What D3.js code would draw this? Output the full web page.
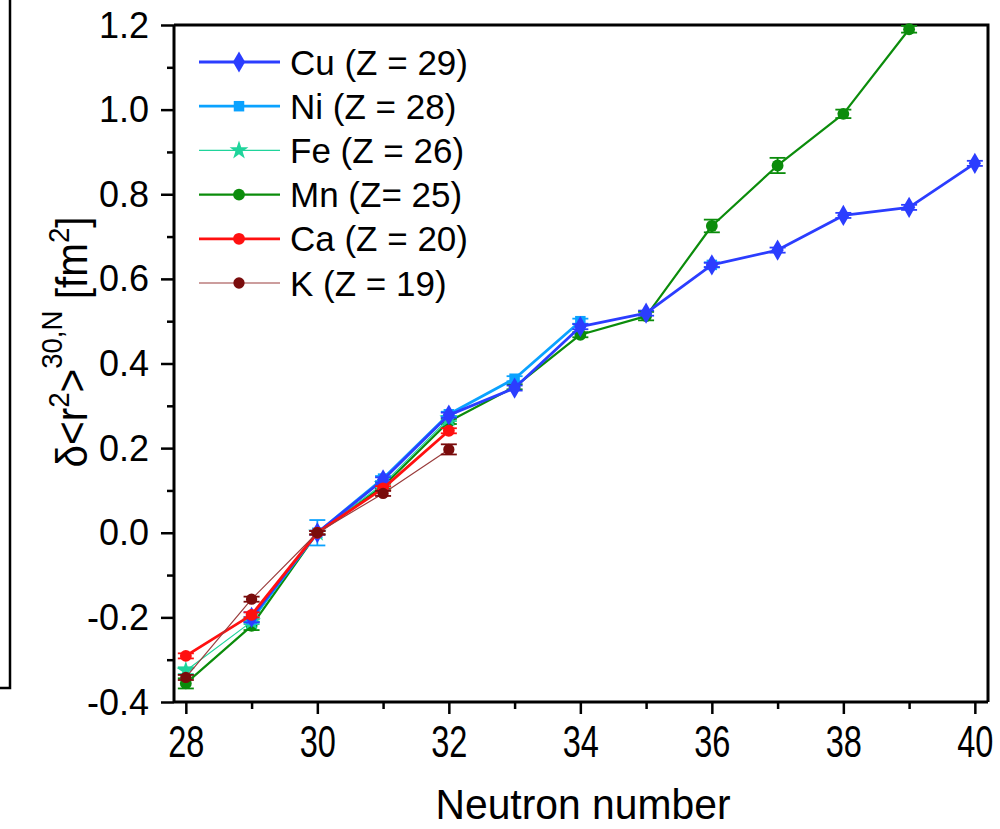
<!DOCTYPE html>
<html>
<head>
<meta charset="utf-8">
<script src="https://cdn.jsdelivr.net/npm/d3@7"></script>
<style>
  html, body { margin: 0; padding: 0; background: #fff; }
  svg { display: block; }
  .sans { font-family: "Liberation Sans", Arial, sans-serif; }
</style>
</head>
<body>
<svg id="chart" width="1000" height="829"></svg>
<script>
// Neutron numbers and tick values
const neutrons = [28, 29, 30, 31, 32, 33, 34, 35, 36, 37, 38, 39, 40];
const xTicks = [28, 30, 32, 34, 36, 38, 40];
const yTicks = [-0.4, -0.2, 0.0, 0.2, 0.4, 0.6, 0.8, 1.0, 1.2];

// Changes in mean-square charge radius relative to N = 30 [fm^2]
const cuN   = [29, 30, 31, 32, 33, 34, 35, 36, 37, 38, 39, 40];
const cuVal = [-0.200, 0.000, 0.125, 0.278, 0.342, 0.487, 0.519, 0.633, 0.668, 0.750, 0.769, 0.873];
const cuErr = [0.012, 0.005, 0.006, 0.006, 0.006, 0.006, 0.006, 0.005, 0.006, 0.006, 0.006, 0.006];

const niN   = [29, 30, 31, 32, 33, 34, 35, 36];
const niVal = [-0.205, 0.000, 0.128, 0.280, 0.364, 0.500, null, 0.633];
const niErr = [0.006, 0.030, 0.006, 0.006, 0.006, 0.006, null, 0.006];

const feN   = [28, 29, 30, 31, 32];
const feVal = [-0.326, -0.210, 0.000, 0.115, 0.270];
const feErr = [0.008, 0.006, 0.004, 0.006, 0.006];

const mnN   = [28, 29, 30, 31, 32, 33, 34, 35, 36, 37, 38, 39];
const mnVal = [-0.356, -0.220, 0.000, 0.110, 0.263, 0.345, 0.468, 0.512, 0.725, 0.868, 0.990, 1.190];
const mnErr = [0.012, 0.010, 0.004, 0.006, 0.006, 0.006, 0.006, 0.010, 0.015, 0.018, 0.010, 0.008];

const caN   = [28, 29, 30, 31, 32];
const caVal = [-0.291, -0.194, 0.000, 0.105, 0.241];
const caErr = [0.006, 0.006, 0.004, 0.005, 0.006];

const kN    = [28, 29, 30, 31, 32];
const kVal  = [-0.342, -0.157, 0.000, 0.093, 0.197];
const kErr  = [0.006, 0.006, 0.004, 0.006, 0.012];

const seriesNames = ["Cu (Z = 29)", "Ni (Z = 28)", "Fe (Z = 26)", "Mn (Z= 25)", "Ca (Z = 20)", "K (Z = 19)"];

function zipSeries(ns, vs, es) {
  return ns.map((n, i) => ({ n: n, v: vs[i], e: es[i] }));
}

const series = [
  { name: seriesNames[3], data: zipSeries(mnN, mnVal, mnErr), color: "#0b8c0b", width: 2.2, symbol: d3.symbolCircle, size: 110 },
  { name: seriesNames[2], data: zipSeries(feN, feVal, feErr), color: "#1fd49b", width: 1.2, symbol: d3.symbolStar, size: 110 },
  { name: seriesNames[1], data: zipSeries(niN, niVal, niErr), color: "#0aa2ff", width: 2.8, symbol: d3.symbolSquare, size: 110 },
  { name: seriesNames[0], data: zipSeries(cuN, cuVal, cuErr), color: "#2b3dff", width: 2.8, symbol: d3.symbolDiamond, size: 130 },
  { name: seriesNames[4], data: zipSeries(caN, caVal, caErr), color: "#ff1010", width: 2.8, symbol: d3.symbolCircle, size: 110 },
  { name: seriesNames[5], data: zipSeries(kN, kVal, kErr), color: "#7a0c0c", lineColor: "#9a3c3c", width: 1.2, symbol: d3.symbolCircle, size: 100 }
];

const svg = d3.select("#chart");
const plotLeft = 174, plotRight = 988, plotTop = 25, plotBottom = 702;

const x = d3.scaleLinear().domain([27.82, 40.2]).range([plotLeft, plotRight]);
const y = d3.scaleLinear().domain([-0.4, 1.2]).range([plotBottom, plotTop]);

// Partial frame of the neighbouring panel on the left edge
svg.append("path")
  .attr("d", "M10,0 L10,688 L0,688")
  .attr("fill", "none").attr("stroke", "#000").attr("stroke-width", 2.5);

// Plot frame (top and right)
svg.append("path")
  .attr("d", `M${plotLeft},${plotTop} L${plotRight},${plotTop} L${plotRight},${plotBottom}`)
  .attr("fill", "none").attr("stroke", "#000").attr("stroke-width", 3);

// Data lines, error bars and markers
const plot = svg.append("g");
series.forEach(s => {
  const line = d3.line()
    .defined(d => d.v !== null)
    .x(d => x(d.n)).y(d => y(d.v));
  plot.append("path")
    .datum(s.data)
    .attr("fill", "none")
    .attr("stroke", s.lineColor || s.color)
    .attr("stroke-width", s.width)
    .attr("stroke-linejoin", "round")
    .attr("d", line);

  const pts = s.data.filter(d => d.v !== null);
  const eb = plot.append("g").attr("stroke", s.color).attr("stroke-width", 1.8);
  pts.forEach(d => {
    const cx = x(d.n), y1 = y(d.v + d.e), y2 = y(d.v - d.e);
    eb.append("line").attr("x1", cx).attr("x2", cx).attr("y1", y1).attr("y2", y2);
    eb.append("line").attr("x1", cx - 8).attr("x2", cx + 8).attr("y1", y1).attr("y2", y1);
    eb.append("line").attr("x1", cx - 8).attr("x2", cx + 8).attr("y1", y2).attr("y2", y2);
  });

  plot.append("g").selectAll("path")
    .data(pts)
    .join("path")
    .attr("transform", d => `translate(${x(d.n)},${y(d.v)})`)
    .attr("d", d3.symbol().type(s.symbol).size(s.size))
    .attr("fill", s.color);
});

// Axes
const xAxis = d3.axisBottom(x)
  .tickValues(d3.range(28, 40.5, 1))
  .tickSize(0)
  .tickFormat("");
const gx = svg.append("g").attr("transform", `translate(0,${plotBottom})`).call(xAxis);
gx.select(".domain").attr("stroke-width", 3).attr("d", `M${plotLeft},0H${plotRight}`);
gx.selectAll(".tick line")
  .attr("y2", d => (xTicks.includes(d) ? 12 : 7))
  .attr("stroke-width", 2.5);
// condensed tick labels
gx.selectAll(".tick")
  .filter(d => xTicks.includes(d))
  .append("text")
  .attr("class", "sans")
  .attr("transform", "translate(0,55) scale(0.74,1)")
  .attr("fill", "#000")
  .attr("font-size", 44)
  .attr("text-anchor", "middle")
  .text(d => d);

const yAxis = d3.axisLeft(y)
  .tickValues(d3.range(-4, 12.5, 1).map(v => v / 10))
  .tickSize(0)
  .tickFormat("");
const gy = svg.append("g").attr("transform", `translate(${plotLeft},0)`).call(yAxis);
gy.select(".domain").attr("stroke-width", 3).attr("d", `M0,${plotTop}V${plotBottom}`);
gy.selectAll(".tick line")
  .attr("x2", (d, i) => (i % 2 === 0 ? -13 : -7))
  .attr("stroke-width", 2.5);
svg.append("g").selectAll("text")
  .data(yTicks)
  .join("text")
  .attr("class", "sans")
  .attr("x", 149)
  .attr("y", d => y(d) + 12.5)
  .attr("text-anchor", "end")
  .attr("font-size", 36)
  .text(d => d3.format(".1f")(d).replace("−", "-"));

// Axis titles
svg.append("text")
  .attr("class", "sans")
  .attr("transform", "translate(583,819) scale(0.95,1)")
  .attr("text-anchor", "middle")
  .attr("font-size", 43)
  .text("Neutron number");

const yl = svg.append("text")
  .attr("class", "sans")
  .attr("transform", "translate(87,342) rotate(-90) scale(0.92,1)")
  .attr("text-anchor", "middle")
  .attr("font-size", 44);
yl.append("tspan").text("δ<r");
yl.append("tspan").attr("font-size", 30).attr("dy", -18).text("2");
yl.append("tspan").attr("dy", 18).text(">");
yl.append("tspan").attr("font-size", 30).attr("dy", -25).text("30,N");
yl.append("tspan").attr("dy", 25).text(" [fm");
yl.append("tspan").attr("font-size", 30).attr("dy", -18).text("2");
yl.append("tspan").attr("dy", 18).text("]");

// Legend
const legendOrder = [3, 2, 1, 0, 4, 5];
const legend = svg.append("g");
legendOrder.forEach((si, row) => {
  const s = series[si];
  const ly = 62 + row * 44.2;
  legend.append("line")
    .attr("x1", 199).attr("x2", 280).attr("y1", ly).attr("y2", ly)
    .attr("stroke", s.lineColor || s.color).attr("stroke-width", s.width);
  legend.append("path")
    .attr("transform", `translate(239,${ly})`)
    .attr("d", d3.symbol().type(s.symbol).size(s.size))
    .attr("fill", s.color);
  legend.append("text")
    .attr("class", "sans")
    .attr("x", 290).attr("y", ly + 12.5)
    .attr("font-size", 35)
    .text(s.name);
});
</script>
</body>
</html>
